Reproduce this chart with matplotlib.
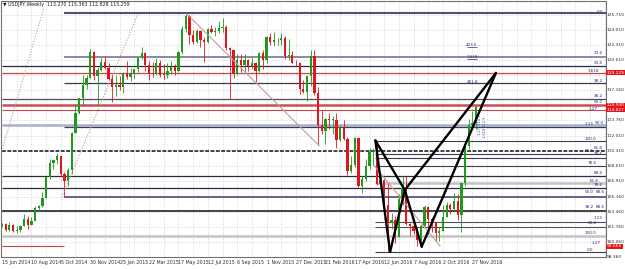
import matplotlib
matplotlib.use('Agg')
import matplotlib.pyplot as plt
import matplotlib.transforms as mtransforms

# USDJPY weekly candles, bar 0 = week of 15 Jun 2014
opens = [102.00, 102.05, 101.35, 102.00, 101.30, 101.35, 101.80, 102.60, 102.00, 102.40,
         103.85, 104.10, 105.05, 107.35, 109.00, 109.25, 109.75, 107.70, 106.90, 108.15,
         112.30, 114.60, 116.30, 117.75, 118.60, 121.45, 118.75, 119.50, 120.40, 119.70,
         118.50, 117.50, 117.75, 117.50, 119.10, 118.70, 119.00, 119.60, 120.80, 121.40,
         120.00, 119.15, 119.00, 120.20, 118.95, 118.90, 119.35, 119.75, 119.35, 121.50,
         124.10, 125.60, 123.40, 122.65, 123.90, 122.80, 122.60, 124.10, 123.80, 123.90,
         124.20, 124.35, 122.00, 121.70, 119.00, 120.60, 120.00, 120.55, 119.90, 120.20,
         119.40, 121.40, 120.60, 123.20, 122.60, 122.80, 122.90, 123.10, 121.00, 121.20,
         120.30, 120.20, 117.30, 117.00, 118.75, 121.10, 116.85, 113.25, 112.55, 113.95,
         113.80, 113.80, 111.55, 113.00, 111.70, 108.05, 108.75, 111.80, 106.30, 107.10,
         108.60, 110.20, 110.30, 106.55, 107.00, 104.15, 102.20, 102.55, 100.55, 104.85,
         106.15, 102.05, 101.85, 101.30, 100.20, 101.85, 103.95, 102.65, 102.25, 101.00,
         101.30, 102.90, 104.20, 103.80, 104.70, 103.10, 106.65, 110.90, 113.20, 113.50]
highs = [102.20, 102.15, 102.25, 102.05, 101.80, 101.90, 103.15, 103.00, 102.80, 104.05,
         104.25, 105.70, 107.40, 109.45, 109.45, 110.10, 109.80, 107.90, 108.40, 112.50,
         115.60, 116.30, 118.95, 118.95, 121.85, 121.60, 119.85, 120.80, 121.00, 120.30,
         119.00, 118.90, 118.80, 119.25, 120.45, 119.70, 119.60, 120.95, 122.05, 121.55,
         120.50, 120.35, 120.85, 120.60, 120.10, 120.25, 120.50, 120.15, 121.60, 124.45,
         125.85, 125.70, 124.00, 124.10, 123.95, 123.15, 124.25, 124.60, 124.35, 125.05,
         125.30, 124.55, 122.05, 121.75, 121.25, 121.30, 121.25, 120.75, 120.90, 120.35,
         121.50, 121.75, 123.25, 123.60, 123.75, 123.05, 123.70, 123.35, 123.00, 121.65,
         120.60, 120.35, 118.30, 118.85, 121.70, 121.70, 117.50, 114.90, 114.00, 114.65,
         114.25, 114.60, 113.30, 113.80, 111.90, 109.70, 111.90, 111.85, 107.50, 109.35,
         110.60, 110.60, 111.45, 107.85, 107.20, 106.80, 103.30, 103.00, 105.45, 107.50,
         107.45, 102.20, 102.65, 101.70, 102.05, 104.20, 104.10, 102.80, 102.30, 101.75,
         104.15, 104.60, 104.40, 105.55, 105.50, 106.70, 111.00, 113.90, 114.85, 115.35]
lows = [101.70, 101.30, 101.25, 101.10, 101.05, 101.10, 101.80, 101.50, 101.90, 102.40,
        103.50, 104.00, 105.00, 107.10, 108.25, 108.80, 107.50, 105.20, 106.40, 107.70,
        112.30, 114.50, 115.50, 117.30, 118.60, 118.30, 115.55, 119.30, 119.60, 118.30,
        115.85, 116.50, 117.25, 116.85, 118.40, 118.20, 118.55, 119.25, 120.65, 119.30,
        118.35, 118.70, 118.95, 118.70, 118.50, 118.55, 119.00, 118.85, 119.20, 121.25,
        123.75, 122.45, 122.45, 122.55, 122.10, 120.40, 122.50, 123.60, 123.30, 123.60,
        123.80, 121.75, 116.15, 118.60, 118.95, 119.25, 119.20, 119.30, 119.60, 118.05,
        119.20, 119.60, 120.25, 122.25, 122.20, 122.25, 122.30, 120.65, 120.60, 120.25,
        119.90, 116.70, 116.85, 115.95, 117.60, 116.60, 110.95, 112.20, 111.05, 112.80,
        112.20, 110.65, 111.40, 111.60, 107.65, 107.85, 108.55, 106.20, 105.55, 106.90,
        108.25, 108.70, 106.50, 106.30, 103.55, 99.00, 101.45, 99.95, 100.55, 104.25,
        101.95, 100.70, 100.95, 99.55, 99.60, 101.80, 100.95, 101.20, 100.10, 100.10,
        101.25, 102.80, 103.20, 103.50, 102.55, 101.20, 106.40, 110.50, 112.85, 112.85]
closes = [102.05, 101.35, 102.00, 101.30, 101.35, 101.80, 102.60, 102.00, 102.40, 103.85,
          104.10, 105.05, 107.35, 109.00, 109.25, 109.75, 107.70, 106.90, 108.15, 112.30,
          114.60, 116.30, 117.75, 118.60, 121.45, 118.75, 119.50, 120.40, 119.70, 118.50,
          117.50, 117.75, 117.50, 119.10, 118.70, 119.00, 119.60, 120.80, 121.40, 120.00,
          119.15, 119.00, 120.20, 118.95, 118.90, 119.35, 119.75, 119.35, 121.50, 124.10,
          125.60, 123.40, 122.65, 123.90, 122.80, 122.60, 124.10, 123.80, 123.90, 124.20,
          124.35, 122.00, 121.70, 119.00, 120.60, 120.00, 120.55, 119.90, 120.20, 119.40,
          121.40, 120.60, 123.20, 122.60, 122.80, 122.90, 123.10, 121.00, 121.20, 120.30,
          120.20, 117.30, 117.00, 118.75, 121.10, 116.85, 113.25, 112.55, 113.95, 113.80,
          113.80, 111.55, 113.00, 111.70, 108.05, 108.75, 111.80, 106.30, 107.10, 108.60,
          110.20, 110.30, 106.55, 107.00, 104.15, 102.20, 102.55, 100.55, 104.85, 106.15,
          102.05, 101.85, 101.30, 100.20, 101.85, 103.95, 102.65, 102.25, 101.00, 101.30,
          102.90, 104.20, 103.80, 104.70, 103.10, 106.65, 110.90, 113.20, 113.50, 115.25]

date_labels = ['15 Jun 2014', '10 Aug 2014', '5 Oct 2014', '30 Nov 2014', '25 Jan 2015',
               '22 Mar 2015', '17 May 2015', '12 Jul 2015', '6 Sep 2015', '1 Nov 2015',
               '27 Dec 2015', '21 Feb 2016', '17 Apr 2016', '12 Jun 2016', '7 Aug 2016',
               '2 Oct 2016', '27 Nov 2016']
price_grid = [125.71, 124.01, 122.31, 120.61, 118.91, 117.16, 115.46, 113.76, 112.01,
              110.31, 108.61, 106.91, 105.16, 103.46, 101.76, 100.06, 98.36]

# horizontal objects (fibo levels / lines): level, first bar, last bar
hl_price = [125.85, 120.96, 119.88, 119.13, 117.99, 116.20, 115.50, 114.95, 113.25, 113.02,
            111.45, 110.31, 109.97, 109.50, 108.60, 107.50, 106.73, 106.10, 105.10, 103.56,
            102.30, 101.75, 100.74, 99.56, 98.86]
hl_start = [17, 17, 0, 0, 17, 0, 0, 0, 0, 17,
            101.5, 0, 101.5, 101.5, 101.5, 0, 101.5, 0, 17, 0,
            101.5, 101.5, 0, 0, 101.5]
hl_end = [165] * 23 + [17, 165]
hl_color = ['#50507a', '#6a6a8c', '#2c2c3c', '#c04848', '#3c3c50', '#4c4c5c', '#c85050', '#c04848',
            '#a8b0cc', '#3c3c50', '#3c3c50', '#111111', '#3c3c50', '#3c3c50', '#3c3c50', '#2c2c3c',
            '#c4c4c4', '#2c2c3c', '#3a3a6a', '#111111', '#505060', '#505060', '#c4c4c4', '#c04848',
            '#3c3c50']
hl_lw = [1.5, 1.1, 0.9, 0.9, 0.9, 0.9, 1.8, 0.8, 1.8, 0.9,
         0.8, 1.1, 0.8, 0.8, 0.8, 0.9, 1.8, 0.9, 1.1, 1.1,
         0.8, 0.8, 1.8, 0.8, 0.8]
dashed_level = 110.31

# fibo level captions
fib_text = ['0.0', '423.6', '1.618', '23.6', '23.6', '1.618', '261.8', '38.2', '38.2', '50.0',
            '1.27', '1.13', '50.0', '100.0', '61.8', '88.6', '78.6', '78.6', '88.6', '61.8',
            '78.6', '50.0', '88.6', '38.2', '88.6', '1.13', '23.6', '100.0', '1.27', '0.0']
fib_x = [162.7, 127.9, 127.9, 162.2, 162.2, 160.8, 127.9, 162.2, 162.2, 162.2,
         160.8, 159.6, 162.6, 160.0, 162.2, 159.8, 162.2, 160.5, 162.2, 161.2,
         162.2, 159.8, 162.8, 159.8, 162.8, 162.2, 160.5, 160.0, 161.6, 160.0]
fib_y = [126.05, 122.29, 120.93, 121.38, 120.25, 119.38, 118.14, 118.22, 116.56, 115.81,
         115.05, 113.36, 113.50, 111.67, 110.65, 110.31, 109.97, 108.99, 107.86, 106.92,
         106.47, 105.68, 105.68, 104.01, 104.01, 102.74, 102.21, 101.04, 99.90, 99.12]

# harmonic pattern X A B C D
pat_x = [101.6, 105.6, 109.6, 114.2, 134.4]
pat_y = [111.50, 98.90, 105.90, 99.50, 119.13]

# trend lines: (bar0, price0, bar1, price1)
dotted_lines = [(-0.3, 109.97, 11.4, 126.5), (16.3, 105.10, 37.0, 125.80)]
solid_lines = [(50.3, 125.80, 86.3, 110.90), (101.2, 108.70, 119.2, 99.56)]

red_tag_price = [119.13, 115.50, 114.95, 99.56]
red_tag_text = ['119.129', '115.930', '114.827', '99.565']

plt.rcParams['font.family'] = ['Liberation Sans Narrow', 'DejaVu Sans']
fs = 3.4

fig = plt.figure(figsize=(6.25, 2.69), dpi=100)
ax = fig.add_axes([1 / 625, 12 / 269, 605 / 625, 256 / 269])
ax.set_xlim(-0.27, 164.35)
ax.set_ylim(98.33, 127.26)
ax.set_xticks([])
ax.set_yticks([])
for s in ax.spines.values():
    s.set_color('#707070')
    s.set_linewidth(0.8)

# grid
for p in price_grid:
    ax.axhline(p, color='#c8c8c8', lw=0.6, ls=(0, (1, 2)), zorder=0)
for k in range(4, 165, 4):
    ax.axvline(k, color='#c8c8c8', lw=0.6, ls=(0, (1, 2)), zorder=0)

for p, a, b, c, w in zip(hl_price, hl_start, hl_end, hl_color, hl_lw):
    ls = (0, (2.5, 1)) if p == dashed_level else '-'
    ax.hlines(p, a, b, colors=c, lw=w, linestyles=ls, zorder=1)

# candles
for i in range(len(opens)):
    o, h, l, c = opens[i], highs[i], lows[i], closes[i]
    col = '#1f9a1f' if c >= o else '#e3141c'
    ax.vlines(i, l, h, colors=col, lw=0.6, zorder=2)
    ax.bar(i, max(abs(c - o), 0.08), bottom=min(o, c), width=0.62, color=col, lw=0, zorder=2)

for x0, y0, x1, y1 in dotted_lines:
    ax.plot([x0, x1], [y0, y1], color='#c49494', lw=0.8, ls=(0, (1, 1.5)), zorder=3)
for x0, y0, x1, y1 in solid_lines:
    ax.plot([x0, x1], [y0, y1], color='#c89a9a', lw=0.8, zorder=3)

# XABCD
X, A, B, C, D = list(zip(pat_x, pat_y))
for p, q in [(X, A), (A, B), (X, B), (B, C), (C, D), (B, D)]:
    ax.plot([p[0], q[0]], [p[1], q[1]], color='black', lw=1.7, solid_capstyle='round', zorder=4)

for t, x, y in zip(fib_text, fib_x, fib_y):
    ax.text(x, y, t, fontsize=3.0, color='#2a2a80', ha='center', va='center', zorder=5)
for y in [122.05, 120.70]:
    ax.hlines(y, 126.6, 129.3, colors='#2a2a80', lw=0.5, zorder=5)
ax.text(130.2, 113.3, '1.27  114.1', fontsize=2.6, color='#3a5aa0', rotation=90, ha='center', va='center', zorder=5)
ax.text(131.3, 113.0, '1.618 112.9', fontsize=2.6, color='#3a5aa0', rotation=90, ha='center', va='center', zorder=5)

# right price scale (labels hidden under the red tags are left out)
tr = mtransforms.blended_transform_factory(ax.transAxes, ax.transData)
for p in price_grid:
    if min(abs(p - r) for r in red_tag_price[:3]) < 0.4:
        continue
    ax.text(1.0015, p, f'{p:.3f}', transform=tr, fontsize=3.2, color='#303030', ha='left', va='center')
for p, t in zip(red_tag_price, red_tag_text):
    ax.text(1.0015, p, t, transform=tr, fontsize=3.2, color='white', ha='left', va='center', zorder=6,
            bbox=dict(boxstyle='square,pad=0.12', fc='#e3151b', ec='none'))

# date axis
trx = mtransforms.blended_transform_factory(ax.transData, ax.transAxes)
for k, lab in enumerate(date_labels):
    ax.text(k * 8, -0.012, lab, transform=trx, fontsize=fs, color='#303030', ha='left', va='top')

ax.text(0.004, 0.995, '\u25bc USDJPY,Weekly  113.270 115.363 112.828 115.259', transform=ax.transAxes,
        fontsize=fs, color='#202020', ha='left', va='top', zorder=6)

fig.savefig('out.png', dpi=100)
